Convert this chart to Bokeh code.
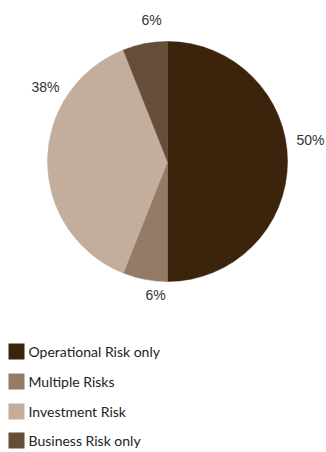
import math
from bokeh.plotting import figure
from bokeh.models import Range1d, ColumnDataSource
from bokeh.core.properties import value
from bokeh.embed import file_html
from bokeh.resources import INLINE

categories = ["Operational Risk only", "Multiple Risks", "Investment Risk", "Business Risk only"]
shares = [50, 6, 38, 6]
labels = ["50%", "6%", "38%", "6%"]
colors = ["#3c230c", "#957b66", "#c3ae9d", "#654d38"]

W, H = 326, 452
CX, CY, R = 167, H - 161, 120
label_pos = [(310, H - 139), (155, H - 294), (45, H - 86), (151, H - 19)]

p = figure(width=W, height=H, output_backend="svg", toolbar_location=None,
           x_range=Range1d(0, W), y_range=Range1d(0, H), min_border=0)
p.axis.visible = False
p.grid.visible = False
p.outline_line_color = None
p.background_fill_color = "white"
p.border_fill_color = "white"

total = sum(shares)
starts, ends = [], []
a = math.pi / 2
for s in shares:
    starts.append(a)
    a -= s / total * 2 * math.pi
    ends.append(a)

src = ColumnDataSource(dict(start=starts, end=ends, color=colors))
p.wedge(x=CX, y=CY, radius=R, start_angle="start", end_angle="end",
        direction="clock", fill_color="color", line_color="color", line_width=0.5, source=src)

p.text(x=[lp[0] for lp in label_pos], y=[lp[1] for lp in label_pos], text=labels,
       text_font=value("Liberation Sans"), text_font_size="14px", text_color="#333333",
       text_align="center", text_baseline="middle")

rows = [H - 351, H - 381, H - 411, H - 440]
p.rect(x=[16] * 4, y=rows, width=16, height=16, fill_color=colors, line_color=None)
p.text(x=[28] * 4, y=rows, text=categories, text_font=value("Lato"),
       text_font_size="14px", text_color="#222222", text_align="left", text_baseline="middle")

open("out.html", "w").write(file_html(p, INLINE))
